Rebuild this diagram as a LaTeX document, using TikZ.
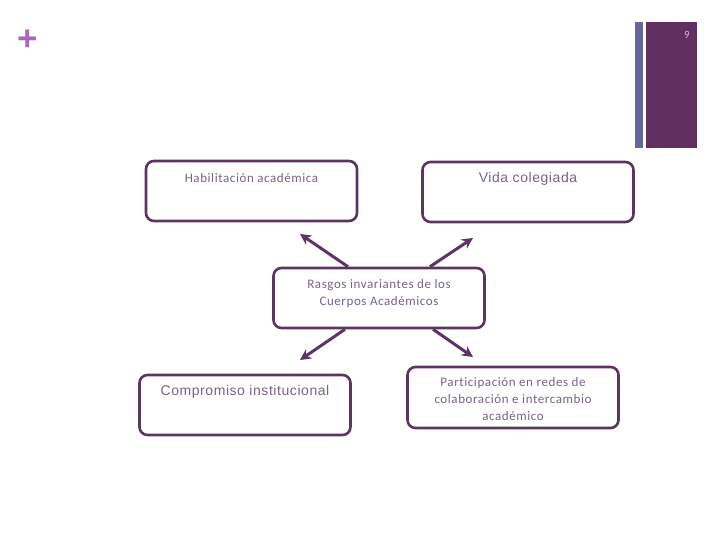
\documentclass[tikz,border=0pt]{standalone}
\usepackage{fontspec}
\setmainfont{Carlito}[LetterSpace=4.5,Ligatures=NoCommon]
\newfontfamily\arialfont{Liberation Sans}[LetterSpace=4]
\usetikzlibrary{arrows.meta}
\definecolor{boxline}{RGB}{91,52,96}
\definecolor{boxtext}{RGB}{120,100,132}
\definecolor{linkcol}{RGB}{94,52,104}
\definecolor{barblue}{RGB}{102,102,155}
\definecolor{barpurple}{RGB}{98,47,99}
\definecolor{plusmark}{RGB}{168,104,190}
\definecolor{pagenum}{RGB}{214,184,214}

\begin{document}
\begin{tikzpicture}[x=1pt,y=-1pt,
  box/.style={draw=boxline,line width=2.6pt,rounded corners=8pt,fill=white,
    minimum width=211pt,inner sep=0pt,text=boxtext,align=center,
    font=\fontsize{13}{17}\selectfont},
  link/.style={draw=linkcol,line width=3pt,-{Stealth[length=11pt,width=11pt]}}]
 \useasboundingbox (0,0) rectangle (720,540);
 % side bars and slide marks
 \fill[barblue] (635,22) rectangle (643,148);
 \fill[barpurple] (646,22) rectangle (697,148);
 \node[text=pagenum,font=\fontsize{11}{11}\selectfont] (pnum) at (687,35) {9};
 \node[text=plusmark,font=\arialfont\bfseries\fontsize{35}{35}\selectfont] (plus) at (28,40) {+};
 % boxes
 \node[box,text height=22pt,text depth=38pt] (hab) at (251.5,191) {Habilitación académica};
 \node[box,text height=21pt,text depth=39pt,font=\arialfont\fontsize{14}{16}\selectfont] (vida) at (528,192) {Vida colegiada};
 \node[box,text height=37pt,text depth=23pt] (rasgos) at (379,298) {Rasgos invariantes de los\\Cuerpos Académicos};
 \node[box,text height=20pt,text depth=40pt,font=\arialfont\fontsize{14}{16}\selectfont] (comp) at (245,405) {Compromiso institucional};
 \node[box,text height=53pt,text depth=8pt] (part) at (513,397.5) {Participación en redes de\\colaboración e intercambio\\académico};
 % arrows
 \coordinate (habend) at (300,234);
 \coordinate (vidaend) at (473,238);
 \coordinate (compend) at (300,360);
 \coordinate (partend) at (473,357);
 \foreach \dx/\side/\to in {-31/north/habend,51/north/vidaend,-34/south/compend,54/south/partend}
  \draw[link] ([xshift=\dx pt]rasgos.\side) -- (\to);
\end{tikzpicture}
\end{document}
